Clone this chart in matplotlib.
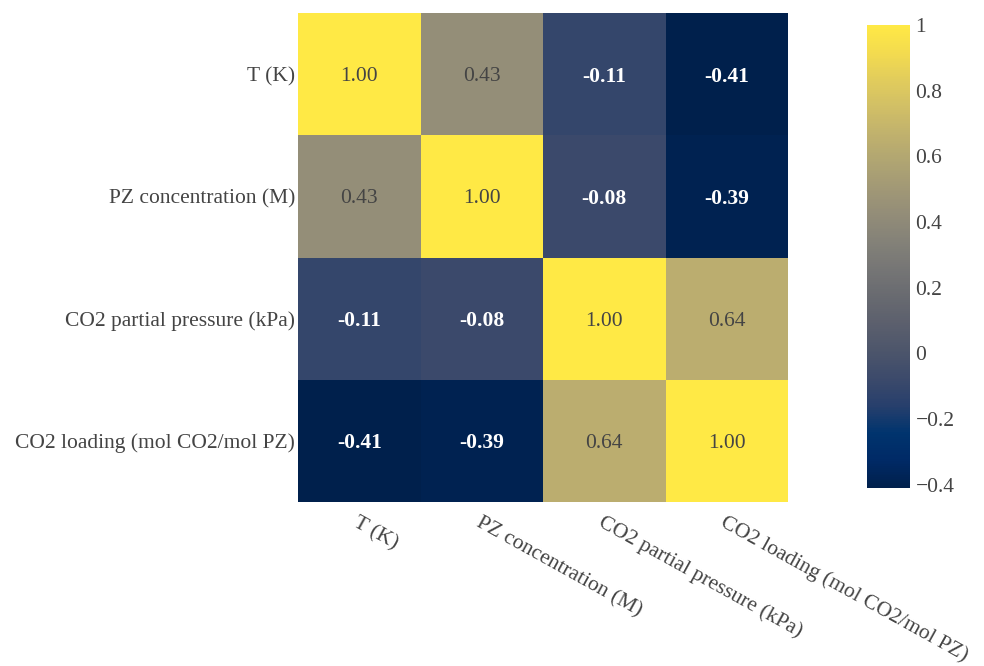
import numpy as np
import matplotlib
matplotlib.use("Agg")
import matplotlib.pyplot as plt
from matplotlib.colors import LinearSegmentedColormap

plt.rcParams['font.family'] = ['Liberation Serif', 'DejaVu Serif']

labels = ['T (K)', 'PZ concentration (M)', 'CO2 partial pressure (kPa)',
          'CO2 loading (mol CO2/mol PZ)']
corr = np.array([
    [1.00, 0.43, -0.11, -0.41],
    [0.43, 1.00, -0.08, -0.39],
    [-0.11, -0.08, 1.00, 0.64],
    [-0.41, -0.39, 0.64, 1.00],
])
cbar_ticks = [-0.4, -0.2, 0, 0.2, 0.4, 0.6, 0.8, 1]
cbar_ticklabels = ['\u22120.4', '\u22120.2', '0', '0.2', '0.4', '0.6', '0.8', '1']

# plotly-style cividis stops
cividis_rgb = [
    (0, 32, 76), (0, 42, 102), (0, 52, 110), (39, 63, 108), (60, 74, 107),
    (76, 85, 107), (91, 95, 109), (104, 106, 112), (117, 117, 117),
    (131, 129, 120), (146, 140, 120), (161, 152, 118), (176, 165, 114),
    (192, 177, 109), (209, 191, 102), (225, 204, 92), (243, 219, 79),
    (255, 233, 69),
]
cmap = LinearSegmentedColormap.from_list(
    'cividis_px', [tuple(c / 255 for c in rgb) for rgb in cividis_rgb])

txt_color = '#444444'
fs = 15.5
vmin, vmax = corr.min(), 1.0

fig = plt.figure(figsize=(9.84, 6.66), dpi=100)
ax = fig.add_axes([298 / 984, 1 - 502 / 666, 490 / 984, 489 / 666])
mesh = ax.pcolormesh(corr, cmap=cmap, vmin=vmin, vmax=vmax)
ax.set_xlim(0, 4)
ax.set_ylim(4, 0)

for i in range(4):
    for j in range(4):
        v = corr[i, j]
        if v < 0:
            ax.text(j + 0.5, i + 0.5, f'{v:.2f}', ha='center',
                    va='center_baseline', fontsize=fs, color='white',
                    fontweight='bold')
        else:
            ax.text(j + 0.5, i + 0.5, f'{v:.2f}', ha='center',
                    va='center_baseline', fontsize=fs, color=txt_color)

ax.set_xticks(np.arange(4) + 0.5)
ax.set_yticks(np.arange(4) + 0.5)
ax.set_xticklabels(labels, rotation=-29, ha='left', va='top',
                   rotation_mode='anchor', fontsize=fs, color=txt_color)
ax.set_yticklabels(labels, fontsize=fs, color=txt_color)
ax.tick_params(length=0, pad=2)
ax.tick_params(axis='x', pad=8)
for s in ax.spines.values():
    s.set_visible(False)

cax = fig.add_axes([867 / 984, 1 - 488 / 666, 43 / 984, 463 / 666])
cb = fig.colorbar(mesh, cax=cax)
cb.set_ticks(cbar_ticks)
cb.set_ticklabels(cbar_ticklabels)
cb.outline.set_visible(False)
cax.tick_params(length=0, pad=4, labelsize=fs, labelcolor=txt_color)

fig.savefig('out.png', dpi=100)
